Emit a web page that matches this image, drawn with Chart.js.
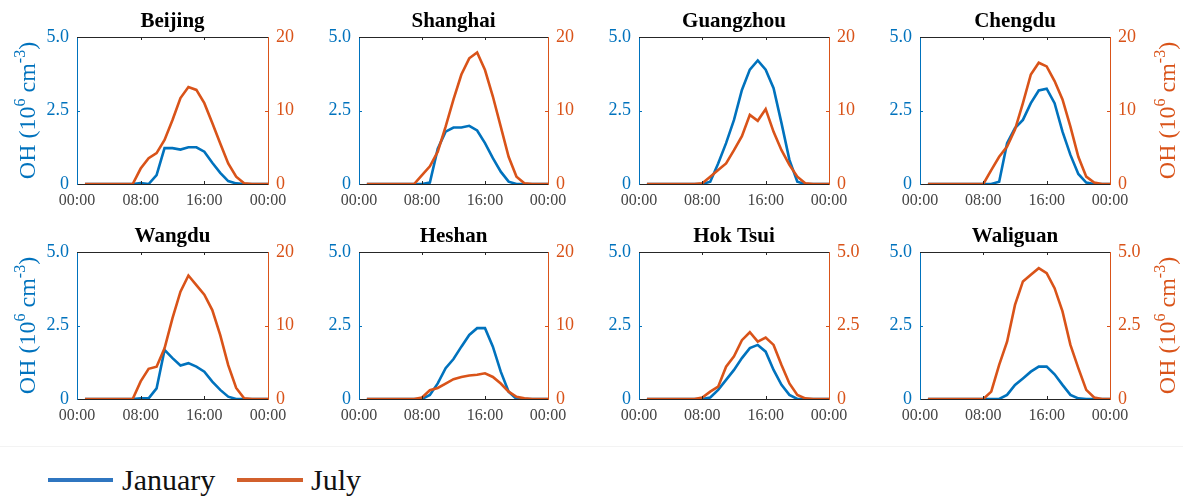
<!DOCTYPE html>
<html>
<head>
<meta charset="utf-8">
<script src="https://cdn.jsdelivr.net/npm/chart.js@4.4.0/dist/chart.umd.min.js"></script>
<style>
  html, body { margin: 0; padding: 0; background: #fff; }
  #wrap { position: relative; width: 1183px; height: 498px; overflow: hidden; }
  #wrap canvas { position: absolute; }
  #sep { position: absolute; left: 0; top: 446px; width: 1183px; height: 1px; background: #f3f3f3; }
  .lg-line { position: absolute; height: 4px; top: 478px; }
  .lg-text { position: absolute; top: 465px; font-family: "Liberation Serif", serif; font-size: 30px; line-height: 30px; color: #111; white-space: nowrap; }
</style>
</head>
<body>
<div id="wrap">
  <div id="sep"></div>
  <div class="lg-line" style="left:48px;width:65px;background:#2f76c0"></div>
  <div class="lg-text" style="left:122px">January</div>
  <div class="lg-line" style="left:237px;width:66px;background:#d2602c"></div>
  <div class="lg-text" style="left:311px">July</div>
</div>
<script>
// hour of day (local time), one value per hour
const hours = [1,2,3,4,5,6,7,8,9,10,11,12,13,14,15,16,17,18,19,20,21,22,23,24]
const xTickHours = [0, 8, 16, 24]
const xTickLabels = ['00:00', '08:00', '16:00', '00:00']

const cities = ['Beijing', 'Shanghai', 'Guangzhou', 'Chengdu', 'Wangdu', 'Heshan', 'Hok Tsui', 'Waliguan']
const rightMax = [20, 20, 20, 20, 20, 20, 5, 5]

// OH, 10^6 cm^-3
const beijingJan = [0,0,0,0,0,0,0,0.03,0,0.3,1.22,1.22,1.17,1.25,1.25,1.1,0.72,0.38,0.1,0.02,0,0,0,0]
const beijingJul = [0,0,0,0,0,0,0,2.1,3.5,4.2,6.0,8.7,11.7,13.2,12.8,11.0,8.3,5.5,2.8,1.0,0.1,0,0,0]
const shanghaiJan = [0,0,0,0,0,0,0,0,0.05,1.2,1.78,1.92,1.92,1.98,1.82,1.39,0.88,0.42,0.08,0,0,0,0,0]
const shanghaiJul = [0,0,0,0,0,0,0,1.2,2.4,4.4,7.8,11.5,14.9,17.1,17.9,15.5,11.9,7.8,3.7,1.0,0.1,0,0,0]
const guangzhouJan = [0,0,0,0,0,0,0,0,0.08,0.7,1.39,2.18,3.2,3.89,4.2,3.89,3.26,2.07,0.82,0.08,0,0,0,0]
const guangzhouJul = [0,0,0,0,0,0,0,0.1,1.0,1.9,2.8,4.6,6.5,9.4,8.6,10.2,7.1,4.6,2.6,1.0,0.1,0,0,0]
const chengduJan = [0,0,0,0,0,0,0,0,0,0.08,1.39,1.9,2.18,2.75,3.18,3.24,2.75,1.78,0.99,0.34,0.05,0,0,0]
const chengduJul = [0,0,0,0,0,0,0,0,1.9,3.7,5.1,7.4,11.0,14.9,16.5,16.0,14.0,11.5,7.8,3.7,1.0,0.2,0,0]
const wangduJan = [0,0,0,0,0,0,0,0.02,0.02,0.36,1.67,1.39,1.14,1.22,1.1,0.93,0.59,0.31,0.08,0,0,0,0,0]
const wangduJul = [0,0,0,0,0,0,0,2.4,4.1,4.4,6.9,11.0,14.6,16.8,15.5,14.2,12.1,8.7,4.6,1.5,0.1,0,0,0]
const heshanJan = [0,0,0,0,0,0,0,0,0.14,0.53,1.05,1.36,1.78,2.18,2.41,2.41,1.78,0.93,0.25,0,0,0,0,0]
const heshanJul = [0,0,0,0,0,0,0,0.2,1.2,1.5,2.1,2.7,3.0,3.2,3.3,3.5,3.0,2.1,1.0,0.3,0.1,0,0,0]
const hokTsuiJan = [0,0,0,0,0,0,0,0,0.05,0.31,0.65,0.99,1.39,1.73,1.84,1.61,0.99,0.48,0.14,0,0,0,0,0]
const hokTsuiJul = [0,0,0,0,0,0,0,0.05,0.25,0.42,1.1,1.45,2.0,2.27,1.95,2.09,1.84,1.16,0.53,0.14,0.02,0,0,0]
const waliguanJan = [0,0,0,0,0,0,0,0,0,0,0.14,0.48,0.7,0.93,1.1,1.1,0.84,0.48,0.14,0.02,0,0,0,0]
const waliguanJul = [0,0,0,0,0,0,0,0,0.25,1.16,1.95,3.2,4.0,4.23,4.45,4.28,3.77,2.98,1.84,1.05,0.31,0.05,0,0]

const janSeries = [beijingJan, shanghaiJan, guangzhouJan, chengduJan, wangduJan, heshanJan, hokTsuiJan, waliguanJan]
const julSeries = [beijingJul, shanghaiJul, guangzhouJul, chengduJul, wangduJul, heshanJul, hokTsuiJul, waliguanJul]

const BLUE = '#0072BD'
const ORANGE = '#D95319'
const FONT = '"Liberation Serif", "Times New Roman", serif'

// plot area of each panel in the page
const colLeft = [77, 359, 639, 920]
const colWidth = [191, 189, 190, 190]
const rowTop = [37, 252]
const plotH = 147
const SIDE = 80, TOPPAD = 37, XH = 22

function fmt(v, max) {
    if (v === 0) return '0'
    return max <= 5 ? v.toFixed(1) : String(v)
}

function drawOHTitle(ctx, cx, cy, color) {
    const parts = [['OH (10', 24, 0], ['6', 16, -10], [' cm', 24, 0], ['-3', 16, -10], [')', 24, 0]]
    ctx.save()
    ctx.translate(cx, cy)
    ctx.rotate(-Math.PI / 2)
    ctx.fillStyle = color
    ctx.textBaseline = 'alphabetic'
    ctx.textAlign = 'left'
    let total = 0
    parts.forEach(p => { ctx.font = `${p[1]}px ${FONT}`; total += ctx.measureText(p[0]).width })
    let x = -total / 2
    parts.forEach(p => {
        ctx.font = `${p[1]}px ${FONT}`
        ctx.fillText(p[0], x, 8 + p[2])
        x += ctx.measureText(p[0]).width
    })
    ctx.restore()
}

const panelDecor = {
    id: 'panelDecor',
    afterDraw(chart, args, opts) {
        const ctx = chart.ctx
        const a = chart.chartArea
        const xs = chart.scales.x, yl = chart.scales.y, yr = chart.scales.y2
        ctx.save()
        // top frame line
        ctx.strokeStyle = '#262626'
        ctx.lineWidth = 1
        ctx.beginPath()
        ctx.moveTo(a.left, a.top + 0.5)
        ctx.lineTo(a.right, a.top + 0.5)
        ctx.stroke()
        // inward tick marks
        ctx.beginPath()
        xTickHours.slice(1, -1).forEach(h => {
            const px = Math.round(xs.getPixelForValue(h)) + 0.5
            ctx.moveTo(px, a.top); ctx.lineTo(px, a.top + 3)
            ctx.moveTo(px, a.bottom); ctx.lineTo(px, a.bottom - 3)
        })
        ctx.stroke()
        ctx.strokeStyle = BLUE
        ctx.beginPath()
        const pl = Math.round(yl.getPixelForValue(2.5)) + 0.5
        ctx.moveTo(a.left, pl); ctx.lineTo(a.left + 3, pl)
        ctx.stroke()
        ctx.strokeStyle = ORANGE
        ctx.beginPath()
        const pr = Math.round(yr.getPixelForValue(opts.rmax / 2)) + 0.5
        ctx.moveTo(a.right, pr); ctx.lineTo(a.right - 3, pr)
        ctx.stroke()
        // panel title
        ctx.fillStyle = '#000'
        ctx.font = `bold 21px ${FONT}`
        ctx.textAlign = 'center'
        ctx.textBaseline = 'middle'
        ctx.fillText(opts.title, (a.left + a.right) / 2, a.top - 15)
        ctx.restore()
        const cy = (a.top + a.bottom) / 2
        if (opts.leftTitle) drawOHTitle(ctx, a.left - 50, cy, BLUE)
        if (opts.rightTitle) drawOHTitle(ctx, a.right + 57, cy, ORANGE)
    }
}

const wrap = document.getElementById('wrap')

cities.forEach((city, i) => {
    const col = i % 4, row = Math.floor(i / 4)
    const canvas = document.createElement('canvas')
    const w = colWidth[col] + 2 * SIDE, h = TOPPAD + plotH + XH
    canvas.width = w
    canvas.height = h
    canvas.style.left = (colLeft[col] - SIDE) + 'px'
    canvas.style.top = (rowTop[row] - TOPPAD) + 'px'
    canvas.style.width = w + 'px'
    canvas.style.height = h + 'px'
    wrap.appendChild(canvas)

    const rmax = rightMax[i]
    const config = {
        type: 'line',
        data: {
            datasets: [
                {
                    label: 'July',
                    data: hours.map((hr, k) => ({ x: hr, y: julSeries[i][k] })),
                    yAxisID: 'y2',
                    borderColor: ORANGE,
                    borderWidth: 2.6,
                    pointRadius: 0,
                    tension: 0,
                },
                {
                    label: 'January',
                    data: hours.map((hr, k) => ({ x: hr, y: janSeries[i][k] })),
                    yAxisID: 'y',
                    borderColor: BLUE,
                    borderWidth: 2.6,
                    pointRadius: 0,
                    tension: 0,
                },
            ]
        },
        options: {
            responsive: false,
            animation: false,
            devicePixelRatio: 1,
            layout: { padding: { top: TOPPAD, bottom: 0, left: 0, right: 0 } },
            plugins: {
                legend: { display: false },
                tooltip: { enabled: false },
                panelDecor: { title: city, rmax: rmax, leftTitle: col === 0, rightTitle: col === 3 },
            },
            scales: {
                x: {
                    type: 'linear',
                    min: 0,
                    max: 24,
                    ticks: {
                        stepSize: 8,
                        autoSkip: false,
                        maxRotation: 0,
                        padding: 7,
                        color: '#444',
                        font: { family: FONT, size: 16 },
                        callback: v => xTickLabels[xTickHours.indexOf(v)],
                    },
                    grid: { display: false, drawTicks: false },
                    border: { color: '#262626', width: 1 },
                    afterFit: s => { s.height = XH },
                },
                y: {
                    position: 'left',
                    min: 0,
                    max: 5,
                    ticks: {
                        stepSize: 2.5,
                        padding: 8,
                        color: BLUE,
                        font: { family: FONT, size: 18 },
                        callback: v => fmt(v, 5),
                    },
                    grid: { display: false, drawTicks: false },
                    border: { color: BLUE, width: 1 },
                    afterFit: s => { s.width = SIDE },
                },
                y2: {
                    position: 'right',
                    min: 0,
                    max: rmax,
                    ticks: {
                        stepSize: rmax / 2,
                        padding: 8,
                        color: ORANGE,
                        font: { family: FONT, size: 18 },
                        callback: v => fmt(v, rmax),
                    },
                    grid: { display: false, drawTicks: false },
                    border: { color: ORANGE, width: 1 },
                    afterFit: s => { s.width = SIDE },
                },
            },
        },
        plugins: [panelDecor],
    }
    new Chart(canvas.getContext('2d'), config)
})
</script>
</body>
</html>
